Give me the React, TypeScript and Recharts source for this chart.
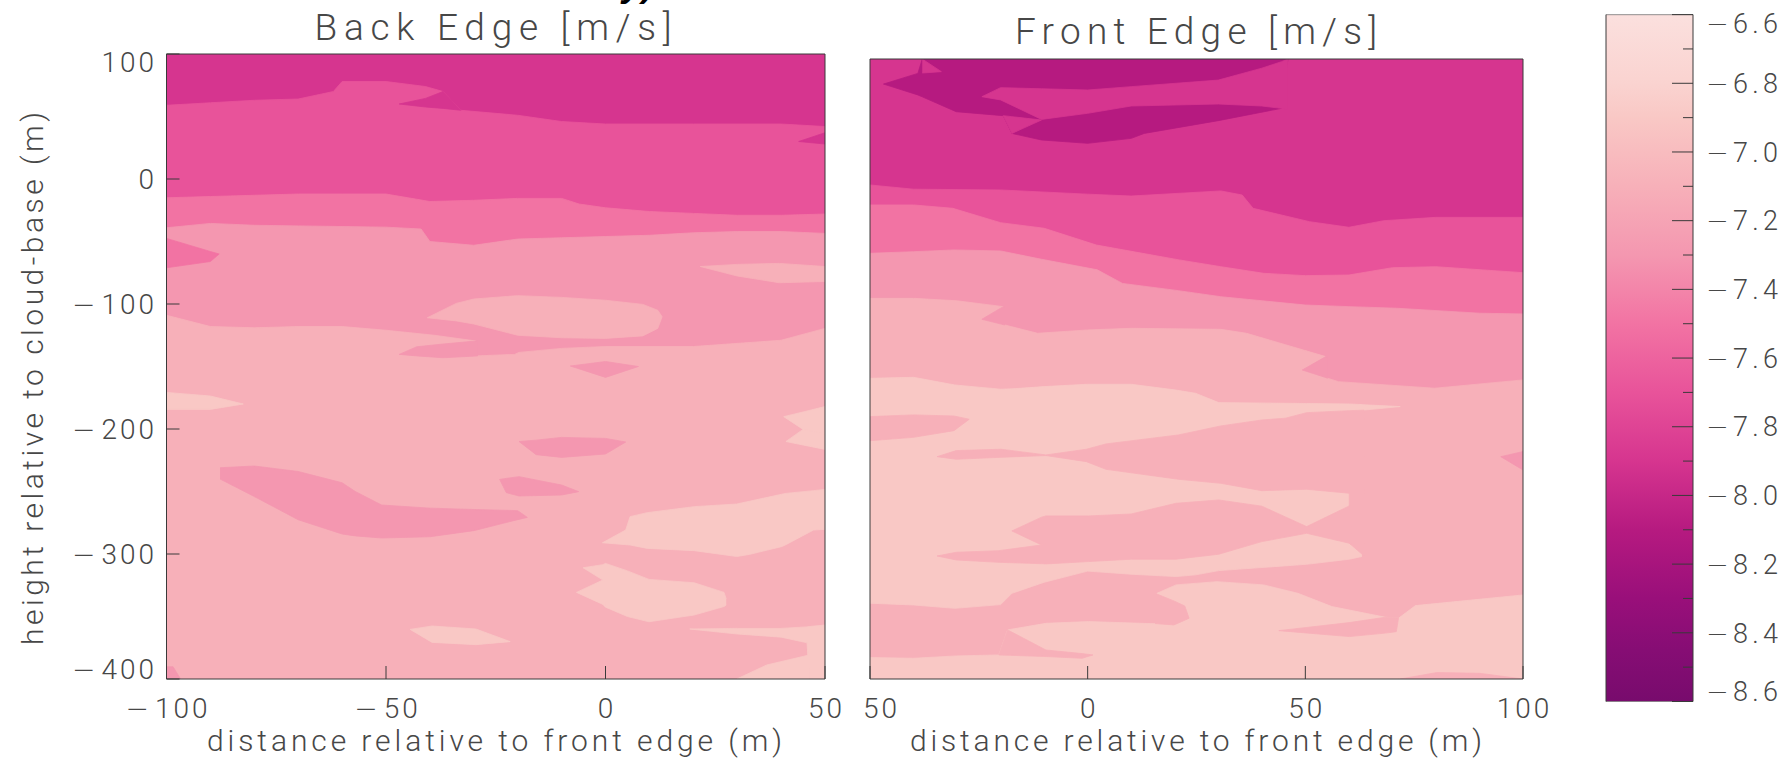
import React from "react";
import { ComposedChart, Area, XAxis, YAxis } from "recharts";

const FONT = "'Roboto Light', 'DejaVu Sans Light', Roboto, sans-serif";
const INK = "#474747";
const AXIS = "#3a3a3a";

// contour level fills, darkest first
const bandColors = ["#b61a80", "#d6358f", "#e8539a", "#f273a3", "#f497b0", "#f7b0b9", "#f9c8c5"];

// colour bar (m/s), listed from the top of the bar down
const barStops = [-6.6, -6.8, -6.9, -7.1, -7.3, -7.5, -7.7, -7.9, -8.1, -8.3, -8.45, -8.6];
const barStopColors = ["#fbe0de", "#fad3d0", "#f9c8c5", "#f7b0b9", "#f497b0", "#f273a3", "#e8539a", "#d6358f", "#b61a80", "#990f7a", "#860d74", "#780b6d"];
const barTicks = [-8.6, -8.5, -8.4, -8.3, -8.2, -8.1, -8.0, -7.9, -7.8, -7.7, -7.6, -7.5, -7.4, -7.3, -7.2, -7.1, -7.0, -6.9, -6.8, -6.7, -6.6];
const barMajor = [-8.6, -8.4, -8.2, -8.0, -7.8, -7.6, -7.4, -7.2, -7.0, -6.8, -6.6];

// axes
const heightTicks = [100, 0, -100, -200, -300, -400];
const backDistTicks = [-100, -50, 0, 50];
const frontDistTicks = [-50, 0, 50, 100];

// ---- back edge: level boundaries [distance, height] ----
const backTop = [[-100, 100], [50, 100]];
const back23 = [[-100, 59], [-90, 61], [-80, 63], [-70, 64], [-62, 70], [-60, 78], [-50, 78], [-41, 74], [-37, 70], [-33, 55], [-20, 51], [-10, 46], [0, 44], [20, 44], [40, 44], [50, 42]];
const back34 = [[-100, -15], [-90, -14], [-80, -13], [-70, -12], [-60, -12], [-50, -12], [-40, -18], [-30, -17], [-20, -15.5], [-10, -15.5], [-6, -20], [0, -23], [10, -26], [20, -27.5], [30, -29], [40, -29], [50, -28]];
const back45 = [[-100, -39], [-90, -35.5], [-80, -37], [-70, -37.5], [-60, -38], [-50, -38.5], [-42, -40], [-40, -50], [-30, -53], [-20, -48], [-10, -47], [0, -46], [10, -45], [20, -43], [30, -42], [40, -42], [50, -43.5]];
const back56 = [[-100, -109], [-90, -118], [-80, -119], [-70, -118], [-60, -118], [-50, -121], [-39, -125], [-29.5, -129.6], [-29.5, -141.5], [-20.7, -140.3], [-19.7, -138.7], [-10, -135.5], [0, -134], [20, -134], [40, -129], [50, -119.5]];

// back edge: closed patches [distance, low, high]
const backInlet = [[-47, 60, 60], [-41, 57.6, 64.5], [-37, 56.5, 70], [-33, 55, 55]];
const backNotch = [[44, 30, 30], [50, 28, 37]];
const backTongue = [[-100, -71, -47.5], [-90, -66, -58], [-88, -60, -60]];
const backPale1 = [[-40.6, -111, -111], [-34, -113.5, -99.5], [-30, -116, -96], [-20, -125, -93.3], [-10, -127, -94.7], [0, -127.5, -97], [8.5, -125.5, -100.3], [11.9, -119.5, -105], [12.9, -110.2, -110.2]];
const backPale2 = [[21.6, -70, -70], [30, -77.6, -68.3], [39.6, -83, -67.5], [50, -82, -70]];
const backWedge = [[-47, -140.3, -140.3], [-43, -141.5, -134.2], [-37, -143, -132], [-29.5, -141.6, -129.6], [-29.1, -141.5, -129.6]];
const backDiamond = [[-8, -149.6, -149.6], [0, -158.7, -146], [7.5, -150, -150]];
const backLight1 = [[-100, -184.3, -170.7], [-90, -184.3, -173.6], [-82.5, -180, -180]];
const backLight2 = [[40.6, -190.1, -190.1], [45, -200.3, -186.4], [50, -205, -182]];
const backLight2b = [[41.1, -210, -210], [45, -212.8, -200.3], [50, -216.3, -204]];
const backBlob1 = [[-19.7, -210, -210], [-15.8, -220.5, -208.9], [-10, -222.7, -206.7], [0, -220, -207.5], [4.6, -210.4, -210.4]];
const backBlob2 = [[-24.1, -240.3, -240.3], [-22.6, -250.9, -239.5], [-19.7, -253.6, -238.1], [-10, -252.8, -244.8], [-6.1, -250.1, -250.1]];
const backBlob3 = [[-87.8, -240, -231], [-80, -254, -229.6], [-70, -272.6, -234], [-60, -284, -243], [-57, -285.5, -250], [-51, -287.2, -260.8], [-40, -286.2, -263.3], [-30, -281.3, -264.4], [-20, -272.5, -265.3], [-17.8, -270.7, -270.7]];
const backLight3 = [[-0.7, -291, -291], [4.6, -292.5, -280.8], [5.6, -292.8, -270.1], [9.5, -295.5, -266.9], [20.2, -297.3, -262.1], [29.9, -302, -260], [32.8, -300.3, -257.8], [40.1, -294.1, -252.2], [41.1, -292.5, -251.5], [47.4, -280.8, -249.3], [50, -280.3, -248.3]];
const backLight4 = [[-5.1, -311, -311], [-0.6, -320.8, -308.5], [0, -342.5, -307.5], [5, -350, -313.5], [9.9, -354.2, -320.3], [20.2, -348.8, -323], [27, -342, -330.7], [27.5, -340.8, -336]];
const backLight5 = [[-6.6, -330.7, -330.7], [-0.6, -340.3, -320.8], [0, -342.5, -322]];
const backLight6 = [[-44.5, -360.3, -360.3], [-39.5, -370.7, -357.6], [-29.5, -372.5, -360], [-21.7, -370.1, -370.1]];
const backLight7 = [[19.2, -360, -360], [30, -364, -359.5], [40, -366.5, -359.5], [45.9, -371, -358.3], [46.4, -400, -358], [50, -400, -356.8]];
const backLight8 = [[29.9, -400, -400], [36.7, -400, -388.8], [46.4, -400, -380.8]];
const backCorner = [[-100, -400, -390.2], [-98.5, -400, -390.2], [-96.8, -400, -400]];

// ---- front edge: level boundaries [distance, height] ----
const frontTop = [[-50, 100], [100, 100]];
const front23 = [[-50, -1.6], [-40, -5], [-20, -5.6], [0, -9], [10, -10.5], [30.6, -6.4], [35.5, -9.7], [38, -20.4], [51, -31.2], [60, -35.7], [68, -30.4], [80, -27.7], [100, -27.7]];
const front34 = [[-50, -17.7], [-40, -17.7], [-31, -20.4], [-20, -32], [-10, -36.5], [2, -50], [21, -62], [30.6, -67.5], [40.4, -72.8], [50, -74.7], [60, -74.2], [70, -68.3], [80, -67.5], [100, -72.3]];
const front45 = [[-50, -56.7], [-40, -55.4], [-30.7, -54], [-20, -54.8], [-10.6, -61.5], [2.2, -70], [8, -81], [20.8, -86.8], [30.6, -91.7], [50, -98.4], [60, -99.7], [71, -101], [90, -105], [100, -105.6]];
const front56 = [[-50, -93], [-40, -93], [-30, -95], [-19.4, -99.7], [-19.4, -114.2], [-11.5, -121.2], [0, -118.5], [10, -117.2], [30.6, -118], [36.5, -121.2], [54.7, -140], [54.7, -157], [57.6, -160.2], [79.7, -165.5], [100, -158.8]];

// front edge: closed patches [distance, low, high]
const frontDark = [[-46.9, 79.8, 79.8], [-39, 71, 88.4], [-38, 69.5, 100], [-30.2, 57.5, 100], [-19.4, 54.3, 100], [-17.4, 40, 100], [-10.6, 34.7, 100], [0, 32, 100], [10, 36, 100], [13, 40, 100], [30, 50.3, 100], [44.5, 60.2, 100], [46, 100, 100]];
const frontGap = [[-24.3, 69.6, 69.6], [-20, 67, 76.9], [-10.6, 51.3, 76], [0, 56.2, 75], [10, 62.1, 77.7], [30, 63.7, 83], [40, 62.1, 92.6], [44.5, 60.2, 97.8], [46, 59, 100]];
const frontPocket = [[-19.4, 54.3, 54.3], [-17.4, 40, 53.5], [-10.6, 50.8, 50.8]];
const frontNotch = [[-38, 88.7, 100], [-33.6, 89.8, 89.8]];
const frontWedgeA = [[-24.3, -109.9, -109.9], [-19.4, -114.2, -99.7], [-19, -114.5, -99.7]];
const frontWedgeB = [[49.3, -150.8, -150.8], [54.7, -156.9, -140], [55.1, -157.4, -140]];
const frontEdgeSpot = [[94.9, -220.7, -220.7], [100, -231.4, -216.6]];
const frontPale = [[-50, -338.9, -157.5], [-40, -340.3, -156.7], [-30.5, -343, -162.9], [-20, -340, -166.3], [-17.4, -330.9, -166], [-10, -322, -164.2], [0, -313, -162.3], [10, -315.5, -162.3], [20.3, -317.4, -167], [24.8, -316, -169.6], [30.1, -312.6, -177.1], [50.3, -307.5, -177.8], [60.1, -303.4, -178.2], [63, -301.2, -178.7]];
const frontPaleTail = [[62.5, -183.4, -178.7], [71.8, -180.3, -180.3]];
const frontTongue = [[-34.6, -220.7, -220.7], [-30.2, -222.8, -215.8], [-19.9, -221.2, -214.7], [-9.6, -219.8, -219.3], [-0.3, -224.7, -214.7], [4.2, -230.9, -210.4], [20.8, -238.9, -203.2], [30.6, -242.2, -195.9], [40, -248.1, -191.1], [45.4, -247.5, -189.7], [50.3, -247, -185.2], [60.1, -250.2, -183.6], [60.1, -290.5, -183.6], [63.5, -300.8, -183.2]];
const frontMid = [[-17.4, -280.6, -280.6], [-10.6, -291.9, -269.5], [-9.6, -307.2, -268.5], [0.2, -305.3, -268.5], [10, -303.4, -266.9], [20.3, -303.4, -258.3], [30.1, -299.4, -255.6], [40, -289.2, -260.6], [50.3, -282.5, -277.1], [60.1, -290.5, -260.4], [60.5, -291.7, -259]];
const frontMidTip = [[-34.6, -300.8, -300.8], [-30.2, -304, -297.8], [-20.4, -305.9, -296.5], [-10.6, -307, -291.9], [-9.6, -307.2, -290.5]];
const frontSideTongue = [[-50, -207.8, -188.4], [-40, -205.1, -187], [-30.7, -199.7, -187.9], [-27.2, -190.5, -190.5]];
const frontPaleLow = [[-50, -400, -382.7], [-40, -400, -383.3], [-30.2, -400, -381.4], [-20.4, -400, -380.6], [-18.4, -400, -360.4], [-9.6, -400, -355.1], [0.2, -400, -353.7], [15.9, -400, -355.5], [15.9, -400, -330.9], [20.3, -400, -324.1], [29.7, -400, -321.5], [40.4, -400, -324.1], [48.3, -400, -330.9], [56.1, -400, -341.6], [68.4, -400, -350.2], [71.4, -400, -351], [75.3, -400, -340.8], [100, -400, -332.2]];
const frontLowTongue = [[-20.4, -380.6, -380.6], [-18.4, -380.8, -360.4], [-9.6, -381.9, -376.6], [-1.3, -383.3, -379.5], [1.2, -380.6, -380.6]];
const frontLowPocket = [[15.5, -355.3, -330.9], [19.8, -356.4, -337], [22.3, -352.6, -341.1], [23.3, -351, -351]];
const frontLowWedge = [[43.9, -361, -361], [60.1, -365.8, -354.5], [68.4, -363, -350.2], [70.9, -361.8, -350.6], [71.4, -351, -351]];
const frontLowBump = [[71.8, -400, -400], [80.2, -400, -394.8], [90, -400, -395.4], [100, -400, -400]];

type Row = { x: number; r: number[] };
type Layer = { rows: Row[]; band: number };

// fill from the bottom of the plot up to a boundary
const below = (pts: number[][]): Row[] => pts.map(([x, y]) => ({ x, r: [-400, y] }));
// fill between a lower and upper edge
const span = (pts: number[][]): Row[] => pts.map(([x, lo, hi]) => ({ x, r: [lo, hi] }));

const backLayers: Layer[] = [
  ...[backTop, back23, back34, back45, back56].map((line, i) => ({ rows: below(line), band: i + 1 })),
  { rows: span(backInlet), band: 1 },
  { rows: span(backNotch), band: 1 },
  { rows: span(backTongue), band: 3 },
  { rows: span(backPale1), band: 5 },
  { rows: span(backPale2), band: 5 },
  { rows: span(backWedge), band: 4 },
  { rows: span(backDiamond), band: 4 },
  { rows: span(backLight1), band: 6 },
  { rows: span(backLight2), band: 6 },
  { rows: span(backLight2b), band: 6 },
  { rows: span(backBlob1), band: 4 },
  { rows: span(backBlob2), band: 4 },
  { rows: span(backBlob3), band: 4 },
  { rows: span(backLight3), band: 6 },
  { rows: span(backLight4), band: 6 },
  { rows: span(backLight5), band: 6 },
  { rows: span(backLight6), band: 6 },
  { rows: span(backLight7), band: 6 },
  { rows: span(backLight8), band: 6 },
  { rows: span(backCorner), band: 4 },
];

const frontLayers: Layer[] = [
  { rows: below(frontTop), band: 1 },
  { rows: span(frontDark), band: 0 },
  { rows: span(frontGap), band: 1 },
  { rows: span(frontPocket), band: 1 },
  { rows: span(frontNotch), band: 1 },
  ...[front23, front34, front45, front56].map((line, i) => ({ rows: below(line), band: i + 2 })),
  { rows: span(frontWedgeA), band: 4 },
  { rows: span(frontWedgeB), band: 4 },
  { rows: span(frontEdgeSpot), band: 4 },
  { rows: span(frontPale), band: 6 },
  { rows: span(frontPaleTail), band: 6 },
  { rows: span(frontTongue), band: 5 },
  { rows: span(frontMid), band: 5 },
  { rows: span(frontMidTip), band: 5 },
  { rows: span(frontSideTongue), band: 5 },
  { rows: span(frontPaleLow), band: 6 },
  { rows: span(frontLowTongue), band: 5 },
  { rows: span(frontLowPocket), band: 5 },
  { rows: span(frontLowWedge), band: 5 },
  { rows: span(frontLowBump), band: 5 },
];

const barRows: Row[] = [{ x: 0, r: [-8.6, -6.6] }, { x: 1, r: [-8.6, -6.6] }];

const tickStyle: React.CSSProperties = { fontFamily: FONT, fontWeight: 300, fontSize: 28, letterSpacing: 3, fill: INK };
const titleStyle: React.CSSProperties = { fontFamily: FONT, fontWeight: 300, fill: INK };
// long, thin minus sign
const minusStyle: React.CSSProperties = { fontFamily: "'DejaVu Sans', sans-serif", fontWeight: 200 };

// axis number with a long minus sign
function signed(v: number, digits = 0, gap = 6) {
  const body = Math.abs(v).toFixed(digits);
  if (v >= 0) return body;
  return [
    <tspan key="m" style={{ ...minusStyle, letterSpacing: gap }}>{"\u2212"}</tspan>,
    <tspan key="d">{body}</tspan>,
  ];
}

function HeightTick({ x, y, payload }: any) {
  const v = payload.value;
  const dy = v === 100 ? 18 : v === -400 ? 0 : 10;
  return (
    <text x={x + 3} y={y + dy} textAnchor="end" style={tickStyle}>
      {signed(v)}
    </text>
  );
}

function DistTick({ x, y, payload, front }: any) {
  const v = payload.value;
  // the left-most front label loses its sign where it meets the neighbouring panel
  const hideSign = front && v === -50;
  return (
    <text x={x + (hideSign ? 11.5 : 1.5)} y={y} textAnchor="middle" style={tickStyle}>
      {hideSign ? "50" : signed(v)}
    </text>
  );
}

function BarTick({ x, y, payload }: any) {
  const v = payload.value;
  const major = Math.round(Math.abs(v) * 10) % 2 === 0;
  const edge = x - 13;
  const dy = v === -6.6 ? 18 : v === -8.6 ? -1 : 9.7;
  return (
    <g>
      <line x1={edge - (major ? 21 : 10)} x2={edge} y1={y} y2={y} stroke={AXIS} strokeWidth={1} />
      {major && (
        <text x={x} y={y + dy} textLength={72} lengthAdjust="spacing" style={{ ...tickStyle, fontSize: 27, letterSpacing: 0 }}>
          {signed(v, 1, 0)}
        </text>
      )}
    </g>
  );
}

// free-standing caption; placed by its own atX/atY, not by the axis viewBox
function Caption({ atX, atY, text, length, size, vertical }: any) {
  return (
    <text
      x={atX}
      y={atY}
      textAnchor="middle"
      textLength={length}
      lengthAdjust="spacing"
      transform={vertical ? `rotate(-90 ${atX} ${atY})` : undefined}
      style={{ ...titleStyle, fontSize: size }}
    >
      {text}
    </text>
  );
}

type PanelProps = {
  width: number;
  margin: { top: number; right: number; bottom: number; left: number };
  domain: number[];
  ticks: number[];
  layers: Layer[];
  front: boolean;
  title: React.ReactElement;
  xTitle: React.ReactElement;
  yTitle?: React.ReactElement;
  leftWidth: number;
};

function ContourPanel({ width, margin, domain, ticks, layers, front, title, xTitle, yTitle, leftWidth }: PanelProps) {
  return (
    <ComposedChart width={width} height={763} margin={margin}>
      {layers.map((l, i) => (
        <Area
          key={i}
          xAxisId="b"
          yAxisId="l"
          data={l.rows}
          dataKey="r"
          type="linear"
          fill={bandColors[l.band]}
          fillOpacity={1}
          stroke={bandColors[l.band]}
          strokeWidth={0.8}
          dot={false}
          activeDot={false}
          legendType="none"
          isAnimationActive={false}
        />
      ))}
      <XAxis
        xAxisId="b"
        dataKey="x"
        type="number"
        domain={domain}
        ticks={ticks}
        allowDataOverflow
        interval={0}
        height={30}
        tickSize={-13}
        tickMargin={52}
        axisLine={{ stroke: AXIS }}
        tickLine={{ stroke: AXIS }}
        tick={(p: any) => <DistTick {...p} front={front} />}
        label={xTitle}
      />
      <XAxis
        xAxisId="t"
        orientation="top"
        dataKey="x"
        type="number"
        domain={domain}
        ticks={ticks}
        allowDataOverflow
        interval={0}
        height={10}
        tickSize={-13}
        axisLine={{ stroke: AXIS }}
        tickLine={{ stroke: AXIS }}
        tick={false}
        label={title}
      />
      <YAxis
        yAxisId="l"
        type="number"
        domain={[-400, 100]}
        ticks={heightTicks}
        allowDataOverflow
        interval={0}
        width={leftWidth}
        tickSize={-13}
        tickMargin={25.5}
        axisLine={{ stroke: AXIS }}
        tickLine={{ stroke: AXIS }}
        tick={front ? false : (p: any) => <HeightTick {...p} />}
        label={yTitle}
      />
      <YAxis
        yAxisId="r"
        orientation="right"
        type="number"
        domain={[-400, 100]}
        ticks={heightTicks}
        allowDataOverflow
        interval={0}
        width={10}
        tickSize={-13}
        axisLine={{ stroke: AXIS }}
        tickLine={{ stroke: AXIS }}
        tick={false}
      />
    </ComposedChart>
  );
}

function ColourBar() {
  return (
    <ComposedChart width={229} height={763} margin={{ top: 14.6, right: 16, bottom: 61.5, left: 36 }}>
      <defs>
        <linearGradient id="velocityScale" x1="0" y1="0" x2="0" y2="1">
          {barStops.map((v, i) => (
            <stop key={v} offset={(-6.6 - v) / 2} stopColor={barStopColors[i]} />
          ))}
        </linearGradient>
      </defs>
      <Area
        xAxisId="c"
        yAxisId="cl"
        data={barRows}
        dataKey="r"
        type="linear"
        fill="url(#velocityScale)"
        fillOpacity={1}
        stroke={AXIS}
        strokeWidth={1}
        dot={false}
        activeDot={false}
        isAnimationActive={false}
      />
      <XAxis xAxisId="c" dataKey="x" type="number" domain={[0, 1]} hide />
      <YAxis
        yAxisId="cl"
        type="number"
        domain={[-8.6, -6.6]}
        ticks={barMajor}
        allowDataOverflow
        interval={0}
        width={10}
        tickSize={-3}
        axisLine={{ stroke: AXIS }}
        tickLine={{ stroke: AXIS }}
        tick={false}
      />
      <YAxis
        yAxisId="cr"
        orientation="right"
        type="number"
        domain={[-8.6, -6.6]}
        ticks={barTicks}
        allowDataOverflow
        interval={0}
        width={80}
        tickSize={0}
        tickMargin={13}
        axisLine={{ stroke: AXIS }}
        tickLine={false}
        tick={(p: any) => <BarTick {...p} />}
      />
    </ComposedChart>
  );
}

export default function App() {
  return (
    <div style={{ position: "absolute", left: 0, top: 0, width: 1789, height: 763, background: "#fff", overflow: "hidden" }}>
      {/* tail of the figure heading, cut by the top edge */}
      <svg width={1789} height={30} style={{ position: "absolute", left: 0, top: 0 }}>
        <text x={622} y={-4} style={{ fontFamily: "'Liberation Sans', sans-serif", fontWeight: 700, fontStyle: "italic", fontSize: 36, fill: "#000" }}>
          y)
        </text>
      </svg>
      <div style={{ position: "absolute", left: 0, top: 0 }}>
        <ContourPanel
          width={860}
          margin={{ top: 44, right: 25, bottom: 54, left: 106.5 }}
          domain={[-100, 50]}
          ticks={backDistTicks}
          layers={backLayers}
          front={false}
          leftWidth={60}
          title={<Caption atX={493} atY={40} text="Back Edge [m/s]" length={357} size={37} />}
          xTitle={<Caption atX={494.5} atY={751} text="distance relative to front edge (m)" length={575} size={30} />}
          yTitle={<Caption atX={43} atY={378.5} text="height relative to cloud-base (m)" length={533} size={30} vertical />}
        />
      </div>
      <div style={{ position: "absolute", left: 860, top: 0 }}>
        <ContourPanel
          width={700}
          margin={{ top: 49, right: 27, bottom: 54, left: 0 }}
          domain={[-50, 100]}
          ticks={frontDistTicks}
          layers={frontLayers}
          front
          leftWidth={10}
          title={<Caption atX={336} atY={44} text="Front Edge [m/s]" length={362} size={37} />}
          xTitle={<Caption atX={336} atY={751} text="distance relative to front edge (m)" length={572} size={30} />}
        />
      </div>
      <div style={{ position: "absolute", left: 1560, top: 0 }}>
        <ColourBar />
      </div>
    </div>
  );
}
